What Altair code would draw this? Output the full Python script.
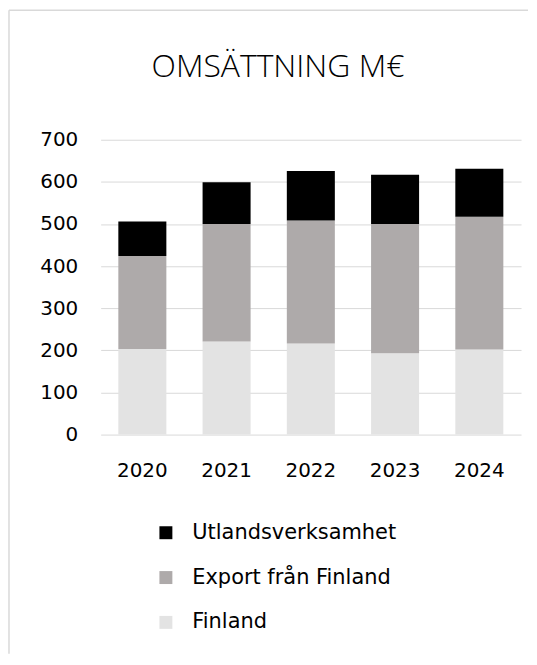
import altair as alt
import pandas as pd

years = ["2020", "2021", "2022", "2023", "2024"]
finland = [203, 221, 216, 193, 202]
export = [221, 279, 292, 307, 315]
utland = [82, 99, 118, 117, 114]

series_names = ["Utlandsverksamhet", "Export från Finland", "Finland"]
series_colors = ["#000000", "#aeaaaa", "#e3e3e3"]
y_ticks = [0, 100, 200, 300, 400, 500, 600, 700]

rows = []
for i, yr in enumerate(years):
    rows.append({"year": yr, "series": "Finland", "value": finland[i], "ord": 0})
    rows.append({"year": yr, "series": "Export från Finland", "value": export[i], "ord": 1})
    rows.append({"year": yr, "series": "Utlandsverksamhet", "value": utland[i], "ord": 2})
df = pd.DataFrame(rows)

FONT = "DejaVu Sans"

bars = alt.Chart(df).mark_bar().encode(
    x=alt.X("year:N", sort=years, title=None,
            scale=alt.Scale(paddingInner=0.43, paddingOuter=0.21),
            axis=alt.Axis(labelAngle=0, domain=False, ticks=False, labelPadding=26,
                          labelFontSize=20, labelFont=FONT, labelColor="#000")),
    y=alt.Y("value:Q", stack="zero", title=None,
            scale=alt.Scale(domain=[0, 700], nice=False),
            axis=alt.Axis(values=y_ticks, domain=False, ticks=False, labelPadding=23,
                          labelFontSize=20, labelFont=FONT, labelColor="#000",
                          gridColor="#d9d9d9", gridWidth=1)),
    color=alt.Color("series:N", title=None,
                    scale=alt.Scale(domain=series_names, range=series_colors),
                    legend=alt.Legend(orient="none", legendX=55, legendY=384,
                                      symbolType="square", symbolSize=169,
                                      symbolStrokeWidth=0, labelFontSize=21,
                                      labelFont=FONT, labelColor="#000", labelLimit=0,
                                      labelOffset=16, rowPadding=23, padding=0)),
    order=alt.Order("ord:Q", sort="ascending"),
)

frame_df = pd.DataFrame({"k": [0]})
left_border = alt.Chart(frame_df).mark_rule(color="#d9d9d9", strokeWidth=1.5).encode(
    x=alt.value(-92), y=alt.value(-130), y2=alt.value(516)
)
top_border = alt.Chart(frame_df).mark_rule(color="#d9d9d9", strokeWidth=1.5).encode(
    x=alt.value(-92), x2=alt.value(429), y=alt.value(-130)
)

chart = alt.layer(left_border, top_border, bars).properties(
    width=422,
    height=296,
    padding=0,
    title=alt.TitleParams("OMSÄTTNING M€", font="Open Sans", fontSize=32, fontWeight=300,
                          color="#000", anchor="middle", frame="group", dx=-33, offset=-75),
).configure_view(stroke=None)

chart.save("out.html", embed_options={"renderer": "svg", "actions": False})
